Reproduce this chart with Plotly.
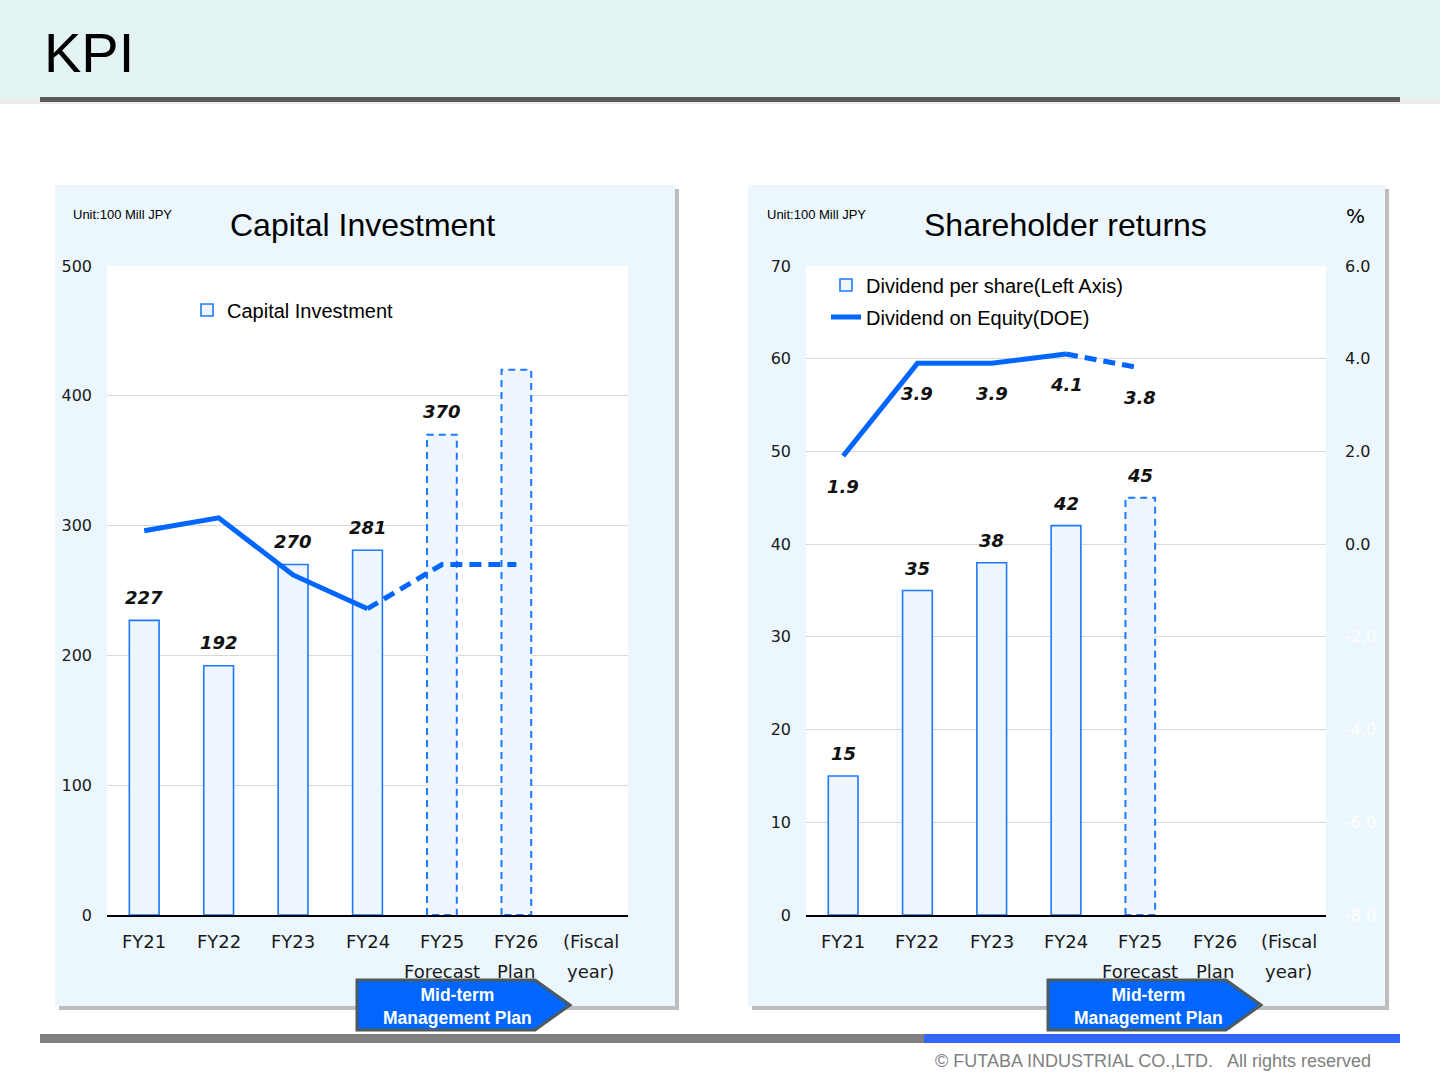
import plotly.graph_objects as go

W, H = 1440, 1080

# ---------------- data ----------------
categories = ["FY21", "FY22", "FY23", "FY24", "FY25", "FY26", "(Fiscal"]
categories_line2 = ["", "", "", "", "Forecast", "Plan", "year)"]

capex_values = [227, 192, 270, 281, 370, 420]
capex_labels = ["227", "192", "270", "281", "370", ""]
capex_forecast = [False, False, False, False, True, True]
capex_line = [296, 306, 262, 236, 270, 270]
capex_line_last_actual = 3

dps_values = [15, 35, 38, 42, 45]
dps_labels = ["15", "35", "38", "42", "45"]
dps_forecast = [False, False, False, False, True]
doe_values = [1.9, 3.9, 3.9, 4.1, 3.8]
doe_last_actual = 3

capex_ticks = [0, 100, 200, 300, 400, 500]
dps_ticks = [0, 10, 20, 30, 40, 50, 60, 70]
doe_ticks = [-8, -6, -4, -2, 0, 2, 4, 6]

# ---------------- style ----------------
BAR_FILL = "#EEF6FF"
BAR_EDGE = "#1F78FF"
LINE_BLUE = "#0066FF"
PANEL = "#EBF7FD"
GRID = "#D9D9D9"
AX_FONT = "DejaVu Sans"
SANS = "Liberation Sans"
BAR_W = 0.4


def px(x):
    return x / W


def py(y):
    return 1 - y / H


fig = go.Figure()


def add_bars(xref, yref, values, forecast, name, legend):
    idx = list(range(len(values)))
    edge = ["rgba(0,0,0,0)" if f else BAR_EDGE for f in forecast]
    fig.add_trace(go.Bar(
        x=idx, y=values, width=BAR_W, name=name,
        marker=dict(color=BAR_FILL, line=dict(color=edge, width=1.6)),
        xaxis=xref, yaxis=yref, legend=legend, showlegend=True,
        hoverinfo="skip",
    ))
    for i, (v, f) in enumerate(zip(values, forecast)):
        if f:
            fig.add_trace(go.Scatter(
                x=[i - BAR_W / 2, i - BAR_W / 2, i + BAR_W / 2, i + BAR_W / 2, i - BAR_W / 2],
                y=[0, v, v, 0, 0], mode="lines",
                line=dict(color=BAR_EDGE, width=2, dash="7px,5px"),
                xaxis=xref, yaxis=yref, showlegend=False, hoverinfo="skip",
            ))


def add_line(xref, yref, values, last_actual, name=None, legend=None):
    idx = list(range(len(values)))
    fig.add_trace(go.Scatter(
        x=idx[:last_actual + 1], y=values[:last_actual + 1], mode="lines",
        line=dict(color=LINE_BLUE, width=5), name=name or "",
        xaxis=xref, yaxis=yref, showlegend=name is not None,
        legend=legend or "legend", hoverinfo="skip",
    ))
    fig.add_trace(go.Scatter(
        x=idx[last_actual:], y=values[last_actual:], mode="lines",
        line=dict(color=LINE_BLUE, width=5, dash="12px,7px"),
        xaxis=xref, yaxis=yref, showlegend=False, hoverinfo="skip",
    ))


# left chart
add_bars("x", "y", capex_values, capex_forecast, "Capital Investment", "legend")
add_line("x", "y", capex_line, capex_line_last_actual)

# right chart
add_bars("x2", "y3", dps_values, dps_forecast, "Dividend per share(Left Axis)", "legend2")
add_line("x2", "y4", doe_values, doe_last_actual, "Dividend on Equity(DOE)", "legend3")

# ---------------- shapes (slide decoration) ----------------
shapes = []
# header
shapes.append(dict(type="rect", xref="paper", yref="paper", x0=0, x1=1, y0=py(104), y1=py(97),
                   fillcolor="rgba(0,0,0,0.08)", line_width=0, layer="below"))
shapes.append(dict(type="rect", xref="paper", yref="paper", x0=0, x1=1, y0=py(98), y1=1,
                   fillcolor="#E4F3F3", line_width=0, layer="below"))
shapes.append(dict(type="rect", xref="paper", yref="paper", x0=px(40), x1=px(1400), y0=py(102), y1=py(97),
                   fillcolor="#5A5A5A", line_width=0, layer="below"))
# panels with shadow
for (x0, x1) in [(55, 675), (748, 1385)]:
    shapes.append(dict(type="rect", xref="paper", yref="paper", x0=px(x0 + 4), x1=px(x1 + 4),
                       y0=py(1010), y1=py(189), fillcolor="#BDBDBD", line_width=0, layer="below"))
    shapes.append(dict(type="rect", xref="paper", yref="paper", x0=px(x0), x1=px(x1),
                       y0=py(1006), y1=py(185), fillcolor=PANEL, line_width=0, layer="below"))
# white plot areas
for xr, yr in [("x domain", "y domain"), ("x2 domain", "y3 domain")]:
    shapes.append(dict(type="rect", xref=xr, yref=yr, x0=0, x1=1, y0=0, y1=1,
                       fillcolor="white", line_width=0, layer="below"))
# bottom bar
shapes.append(dict(type="rect", xref="paper", yref="paper", x0=px(40), x1=px(924), y0=py(1043), y1=py(1034),
                   fillcolor="#808080", line_width=0, layer="below"))
shapes.append(dict(type="rect", xref="paper", yref="paper", x0=px(924), x1=px(1400), y0=py(1043), y1=py(1034),
                   fillcolor="#3366FF", line_width=0, layer="below"))
# mid-term plan arrows
for x0 in [357, 1048]:
    xb, xt = x0 + 178, x0 + 213
    path = (f"M{px(x0)},{py(980)} L{px(xb)},{py(980)} L{px(xt)},{py(1005)} "
            f"L{px(xb)},{py(1030)} L{px(x0)},{py(1030)} Z")
    shapes.append(dict(type="path", xref="paper", yref="paper", path=path,
                       fillcolor="#0066FF", line=dict(color="#4D5B60", width=3), layer="above"))

# ---------------- annotations ----------------
ann = []


def text(x, y, t, size, color="black", family=SANS, xanchor="center", weight="normal", style="normal"):
    ann.append(dict(x=px(x), y=py(y), xref="paper", yref="paper", text=t, showarrow=False,
                    xanchor=xanchor, yanchor="middle",
                    font=dict(size=size, color=color, family=family, weight=weight, style=style)))


text(42, 52, "KPI", 56, xanchor="left")
text(71, 214, "Unit:100 Mill JPY", 13, xanchor="left")
text(362, 225, "Capital Investment", 32)
text(765, 214, "Unit:100 Mill JPY", 13, xanchor="left")
text(1065, 225, "Shareholder returns", 32)
text(1355, 216, "%", 20, family=AX_FONT)
text(1373, 1061, "© FUTABA INDUSTRIAL CO.,LTD.   All rights reserved", 18, color="#808080", xanchor="right")
for cx in [457, 1148]:
    text(cx, 1006, "Mid-term<br>Management Plan", 17.5, color="white", weight="bold")

# category labels
for xr in ["x", "x2"]:
    for i, (c1, c2) in enumerate(zip(categories, categories_line2)):
        ann.append(dict(x=i, y=py(941), xref=xr, yref="paper", text=c1, showarrow=False,
                        yanchor="middle", font=dict(size=18, family=AX_FONT, color="#1a1a1a")))
        if c2:
            ann.append(dict(x=i, y=py(971), xref=xr, yref="paper", text=c2, showarrow=False,
                            yanchor="middle", font=dict(size=18, family=AX_FONT, color="#1a1a1a")))

LBL = dict(size=18, family=AX_FONT, color="#111111", weight="bold", style="italic")
for i, (v, t) in enumerate(zip(capex_values, capex_labels)):
    if t:
        ann.append(dict(x=i, y=v, xref="x", yref="y", text=t, showarrow=False, yshift=23, font=LBL))
for i, (v, t) in enumerate(zip(dps_values, dps_labels)):
    ann.append(dict(x=i, y=v, xref="x2", yref="y3", text=t, showarrow=False, yshift=22, font=LBL))
for i, v in enumerate(doe_values):
    ann.append(dict(x=i, y=v, xref="x2", yref="y4", text=f"{v:.1f}", showarrow=False, yshift=-30, font=LBL))

# ---------------- axes ----------------
ydom = [py(915), py(266)]
xcommon = dict(range=[-0.5, 6.5], showticklabels=False, showgrid=False, zeroline=False,
               showline=True, linecolor="black", linewidth=1.5, ticks="", fixedrange=True,
               automargin=False)
ycommon = dict(showgrid=True, gridcolor=GRID, gridwidth=1, zeroline=False, showline=False, ticks="",
               tickfont=dict(size=16, family=AX_FONT, color="#1a1a1a"), ticklabelstandoff=14,
               fixedrange=True, automargin=False)

doe_text = [f"{t:.1f}" if t >= 0 else f"<span style='color:white'>{t:.1f}</span>" for t in doe_ticks]

legend_common = dict(bgcolor="rgba(0,0,0,0)", borderwidth=0, xanchor="left", yanchor="middle",
                     font=dict(size=20, family=SANS, color="black"), itemclick=False, itemdoubleclick=False)

fig.update_layout(
    width=W, height=H, autosize=False,
    margin=dict(l=0, r=0, t=0, b=0, pad=0, autoexpand=False),
    paper_bgcolor="white", plot_bgcolor="rgba(0,0,0,0)",
    barmode="overlay",
    xaxis=dict(domain=[px(107), px(628)], anchor="y", **xcommon),
    yaxis=dict(domain=ydom, anchor="x", range=[0, 500], tickvals=capex_ticks, **ycommon),
    xaxis2=dict(domain=[px(806), px(1326)], anchor="y3", **xcommon),
    yaxis3=dict(domain=ydom, anchor="x2", range=[0, 70], tickvals=dps_ticks, **ycommon),
    yaxis4=dict(overlaying="y3", side="right", anchor="x2", range=[-8, 6], tickvals=doe_ticks,
                ticktext=doe_text, showgrid=False, zeroline=False, showline=False, ticks="",
                tickfont=dict(size=16, family=AX_FONT, color="#1a1a1a"), ticklabelstandoff=18,
                fixedrange=True, automargin=False),
    legend=dict(x=px(187), y=py(310), **legend_common),
    legend2=dict(x=px(826), y=py(285), **legend_common),
    legend3=dict(x=px(826), y=py(317), **legend_common),
    shapes=shapes,
    annotations=ann,
    showlegend=True,
)

page_fix = (
    "document.documentElement.style.margin='0';document.body.style.margin='0';"
    "document.body.style.padding='0';document.body.style.overflow='hidden';"
    "var d=document.getElementById('{plot_id}');d.style.position='absolute';"
    "d.style.left='0px';d.style.top='0px';"
)

fig.write_html("out.html", config={"displayModeBar": False}, post_script=page_fix)
